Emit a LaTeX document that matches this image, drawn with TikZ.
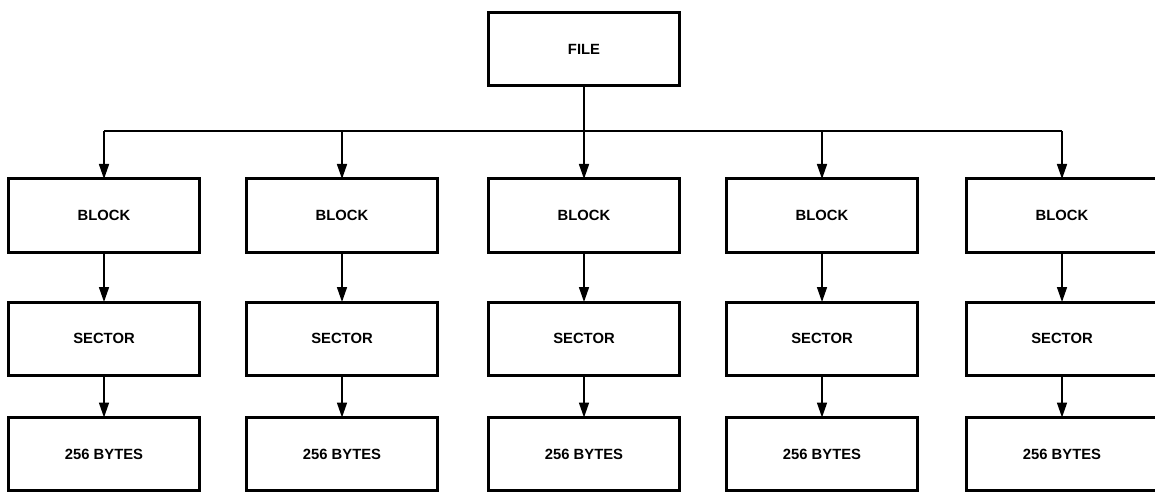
\documentclass[tikz,border=0pt]{standalone}
\usepackage{fontspec}
\setmainfont{Liberation Sans}
\usetikzlibrary{arrows.meta}
\tikzset{
  box/.style={draw, line width=3pt, minimum width=191pt, minimum height=73pt, inner sep=0pt, outer sep=0pt, font=\fontsize{14.8}{16}\selectfont\bfseries},
  conn/.style={line width=1.6pt},
  arr/.style={conn, -{Triangle[length=15pt,width=10pt]}}
}
\begin{document}
\begin{tikzpicture}[x=1pt,y=-1pt]
\useasboundingbox (0,0) rectangle (1155,494);
\node[box] (file) at (584,49.5) {FILE};
\foreach \i/\cx in {1/104, 2/342, 3/584, 4/822, 5/1062} {
  \node[box] (b\i) at (\cx,215.5) {BLOCK};
  \node[box] (s\i) at (\cx,338.5) {SECTOR};
  \node[box] (y\i) at (\cx,454) {256 BYTES};
  \coordinate (bus\i) at (\cx,131);
  \draw[arr] (bus\i) -- (b\i.north);
  \draw[arr] (b\i.south) -- (s\i.north);
  \draw[arr] (s\i.south) -- (y\i.north);
}
\draw[conn] (file.south) -- (bus3);
\draw[conn] (bus1) -- (bus5);
\end{tikzpicture}
\end{document}
